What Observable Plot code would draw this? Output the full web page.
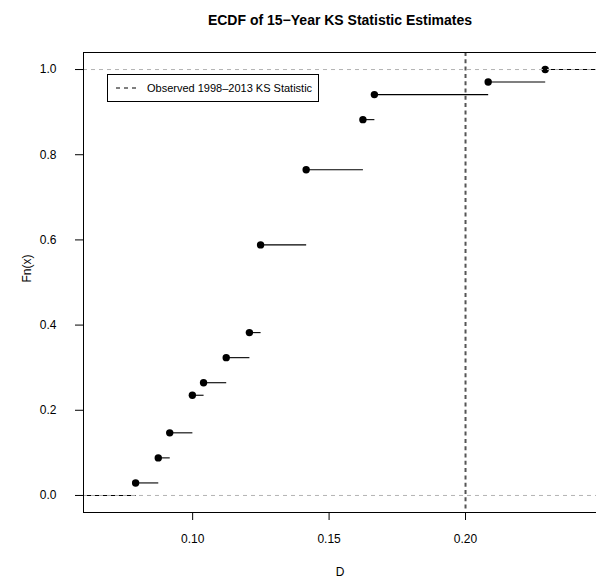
<!DOCTYPE html>
<html>
<head>
<meta charset="utf-8">
<script src="https://cdn.jsdelivr.net/npm/d3@7"></script>
<script src="https://cdn.jsdelivr.net/npm/@observablehq/plot@0.6"></script>
<style>
  html, body { margin: 0; padding: 0; background: #fff; }
  #chart svg { display: block; }
</style>
</head>
<body>
<div id="chart"></div>
<script>
// Sorted KS statistic estimates (jump points of the ECDF)
const D = [0.0791, 0.0874, 0.0916, 0.0999, 0.1040, 0.1123, 0.1208, 0.1249, 0.1416, 0.1624, 0.1666, 0.2083, 0.2292];
// Cumulative counts out of 34
const cumCount = [1, 3, 5, 8, 9, 11, 13, 20, 26, 30, 32, 33, 34];
const nTotal = 34;
const observedKS = [0.20];
const xTicks = [0.10, 0.15, 0.20];
const yTicks = [0, 0.2, 0.4, 0.6, 0.8, 1.0];
const xDomain = [0.0600, 0.2480];
const yDomain = [-0.040, 1.040];
const refLevels = [0, 1];
const legendLabel = "Observed 1998\u20132013 KS Statistic";

const Fn = cumCount.map(c => c / nTotal);
const points = D.map((d, i) => ({x: d, y: Fn[i]}));
const steps = [{x1: xDomain[0], x2: D[0], y: 0}]
  .concat(D.map((d, i) => ({x1: d, x2: i < D.length - 1 ? D[i + 1] : xDomain[1], y: Fn[i]})));

const font = "'Liberation Sans', Arial, Helvetica, sans-serif";

const chart = Plot.plot({
  width: 596,
  height: 583,
  marginLeft: 83,
  marginRight: 0,
  marginTop: 52,
  marginBottom: 71,
  style: {fontFamily: font, fontSize: "12px", color: "#000", background: "#fff"},
  x: {domain: xDomain},
  y: {domain: yDomain},
  marks: [
    Plot.ruleX(observedKS, {stroke: "#555", strokeWidth: 2, strokeDasharray: "4,3.3"}),
    Plot.link(steps, {x1: "x1", x2: "x2", y1: "y", y2: "y", stroke: "#000", strokeWidth: 1.1}),
    Plot.dot(points, {x: "x", y: "y", r: 3.7, fill: "#000", stroke: "none"}),
    Plot.ruleY(refLevels, {stroke: "#b3b3b3", strokeWidth: 1, strokeDasharray: "4,4"}),
    // box (left, top, bottom)
    Plot.ruleX([xDomain[0]], {stroke: "#000", strokeWidth: 1}),
    Plot.ruleY(yDomain, {stroke: "#000", strokeWidth: 1}),
    Plot.axisX({ticks: xTicks, tickFormat: d3.format(".2f"), tickSize: 8, tickPadding: 14, fontSize: 12, label: null}),
    Plot.axisY({ticks: yTicks, tickFormat: d3.format(".1f"), tickSize: 8, tickPadding: 19, fontSize: 12, label: null}),
    Plot.text(["ECDF of 15\u2212Year KS Statistic Estimates"], {frameAnchor: "top", dy: -37, fontWeight: "bold", fontSize: 14, fill: "#000"}),
    Plot.text(["D"], {frameAnchor: "bottom", dy: 63, fontSize: 12, fill: "#000"}),
    Plot.text(["Fn(x)"], {frameAnchor: "left", dx: -56, rotate: -90, fontSize: 12, fill: "#000"})
  ]
});

document.getElementById("chart").appendChild(chart);

// Legend box drawn into the SVG as real text
const svg = d3.select(chart);
const lg = svg.append("g").attr("font-family", font).attr("text-anchor", "start");
lg.append("rect").attr("x", 107.5).attr("y", 74.5).attr("width", 211).attr("height", 27)
  .attr("fill", "#fff").attr("stroke", "#000").attr("stroke-width", 1);
lg.append("line").attr("x1", 116).attr("x2", 138).attr("y1", 88).attr("y2", 88)
  .attr("stroke", "#000").attr("stroke-dasharray", "4,4");
lg.append("text").attr("x", 147).attr("y", 88).attr("dy", "0.35em").attr("font-size", 11)
  .attr("text-anchor", "start").attr("fill", "#000").text(legendLabel);
</script>
</body>
</html>
